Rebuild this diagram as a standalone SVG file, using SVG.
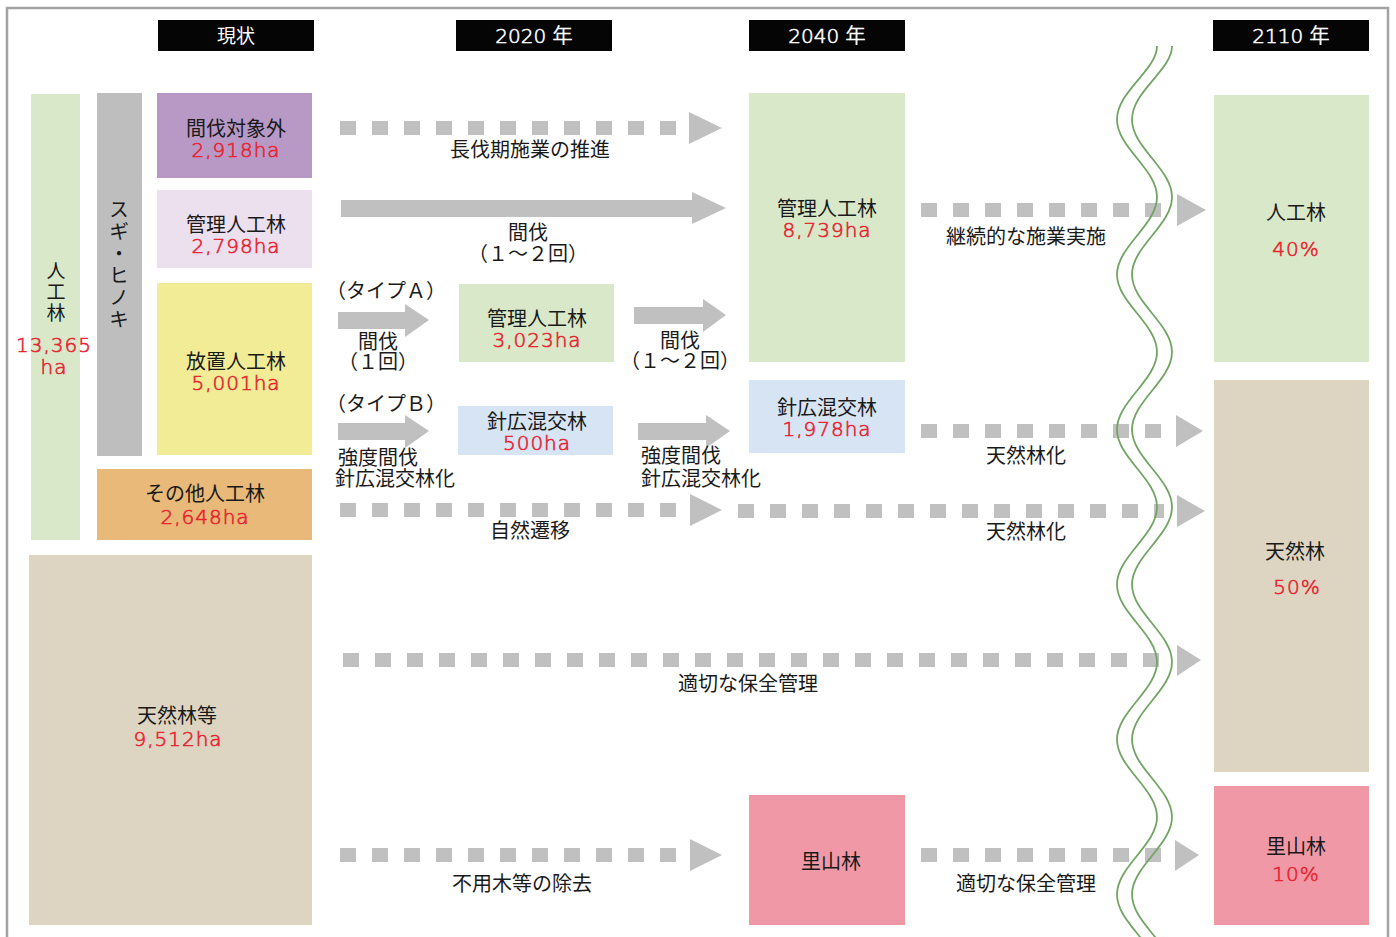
<svg xmlns="http://www.w3.org/2000/svg" width="1396" height="937" viewBox="0 0 1396 937">
<style>
.jp{font-family:"Noto Sans CJK JP","Noto Sans",sans-serif;font-size:20px;fill:#1a1a1a;text-anchor:middle}
.jl{font-family:"Noto Sans CJK JP","Noto Sans",sans-serif;font-size:20px;fill:#1a1a1a}
.vt{font-family:"Noto Sans CJK JP","Noto Sans",sans-serif;font-size:20px;fill:#1a1a1a;writing-mode:vertical-rl}
.num{font-family:"DejaVu Sans","Noto Sans CJK JP",sans-serif;font-weight:200;font-size:20px;fill:#e8232f;stroke:#e8232f;stroke-width:0.6;text-anchor:middle;letter-spacing:1px}
.hd{font-family:"DejaVu Sans","Noto Sans CJK JP",sans-serif;font-weight:200;font-size:20px;fill:#fff;stroke:#fff;stroke-width:0.6;text-anchor:middle}
.dash{stroke:#c0c0c0;stroke-width:14;stroke-dasharray:16 16;fill:none}
.head{fill:#c0c0c0}
.wave{fill:none;stroke:#72a564;stroke-width:1.8}
</style>
<rect x="0" y="0" width="1396" height="937" fill="#fff"/>
<path d="M7,945 V8 H1388 V945" fill="none" stroke="#a3a3a3" stroke-width="2.5"/>

<g id="headers">
<rect x="158" y="20" width="156" height="31" fill="#050505"/>
<text x="236" y="43" style="font-family:'Noto Sans CJK JP',sans-serif;font-size:19px;fill:#fff;text-anchor:middle">現状</text>
<rect x="456" y="20" width="156" height="31" fill="#050505"/>
<text class="hd" x="534" y="43">2020 年</text>
<rect x="749" y="20" width="156" height="31" fill="#050505"/>
<text class="hd" x="827" y="43">2040 年</text>
<rect x="1213" y="20" width="156" height="31" fill="#050505"/>
<text class="hd" x="1291" y="43">2110 年</text>
</g>

<g id="node-jinkourin-total">
<rect x="31" y="94" width="49" height="446" fill="#d9e8c9"/>
<text class="vt" x="56" y="261" style="font-size:19px;letter-spacing:2px">人工林</text>
<text class="num" x="54" y="352">13,365</text>
<text class="num" x="54" y="374">ha</text>
</g>

<g id="node-sugi-hinoki">
<rect x="97" y="93" width="45" height="363" fill="#bebebe"/>
<text class="vt" x="119" y="199" style="letter-spacing:2px">スギ・ヒノキ</text>
</g>

<g id="node-kanbatsu-taishougai">
<rect x="157" y="93" width="155" height="85" fill="#b899c6"/>
<text class="jp" x="236" y="136">間伐対象外</text>
<text class="num" x="236" y="157">2,918ha</text>
</g>

<g id="node-kanri-2798">
<rect x="157" y="190" width="155" height="78" fill="#ecdfee"/>
<text class="jp" x="236" y="232">管理人工林</text>
<text class="num" x="236" y="253">2,798ha</text>
</g>

<g id="node-houchi">
<rect x="157" y="283" width="155" height="172" fill="#f1ec95"/>
<text class="jp" x="236" y="369">放置人工林</text>
<text class="num" x="236" y="390">5,001ha</text>
</g>

<g id="node-sonota">
<rect x="97" y="469" width="215" height="71" fill="#e8b978"/>
<text class="jp" x="205" y="501">その他人工林</text>
<text class="num" x="205" y="524">2,648ha</text>
</g>

<g id="node-tennenrin-tou">
<rect x="29" y="555" width="283" height="370" fill="#ddd5c2"/>
<text class="jp" x="177" y="723">天然林等</text>
<text class="num" x="178" y="746">9,512ha</text>
</g>

<g id="node-kanri-3023">
<rect x="459" y="284" width="155" height="78" fill="#d9e8c9"/>
<text class="jp" x="537" y="326">管理人工林</text>
<text class="num" x="537" y="347">3,023ha</text>
</g>

<g id="node-shinkou-500">
<rect x="458" y="406" width="155" height="49" fill="#d7e4f4"/>
<text class="jp" x="537" y="429">針広混交林</text>
<text class="num" x="537" y="450">500ha</text>
</g>

<g id="node-kanri-8739">
<rect x="749" y="93" width="156" height="269" fill="#d9e8c9"/>
<text class="jp" x="827" y="216">管理人工林</text>
<text class="num" x="827" y="237">8,739ha</text>
</g>

<g id="node-shinkou-1978">
<rect x="749" y="380" width="156" height="73" fill="#d7e4f4"/>
<text class="jp" x="827" y="415">針広混交林</text>
<text class="num" x="827" y="436">1,978ha</text>
</g>

<g id="node-satoyama-2040">
<rect x="749" y="795" width="156" height="130" fill="#f098a6"/>
<text class="jp" x="831" y="869">里山林</text>
</g>

<g id="node-jinkourin-2110">
<rect x="1214" y="95" width="155" height="267" fill="#d9e8c9"/>
<text class="jp" x="1296" y="220">人工林</text>
<text class="num" x="1296" y="256" font-size="22">40%</text>
</g>

<g id="node-tennenrin-2110">
<rect x="1214" y="380" width="155" height="392" fill="#ddd5c2"/>
<text class="jp" x="1295" y="559">天然林</text>
<text class="num" x="1297" y="594" font-size="22">50%</text>
</g>

<g id="node-satoyama-2110">
<rect x="1214" y="786" width="155" height="139" fill="#f098a6"/>
<text class="jp" x="1296" y="854">里山林</text>
<text class="num" x="1296" y="881" font-size="22">10%</text>
</g>

<g id="connectors">
<line class="dash" x1="340" y1="128" x2="676" y2="128"/>
<polygon class="head" points="689,112 722,128 689,144"/>
<text class="jp" x="530" y="157">長伐期施業の推進</text>
<polygon class="head" points="341,200 692,200 692,192 726,208 692,224 692,217 341,217"/>
<text class="jp" x="528" y="240">間伐</text>
<text class="jp" x="528" y="261" font-size="18">（１～２回）</text>
<text class="jl" x="326" y="298" font-size="18">（タイプＡ）</text>
<polygon class="head" points="338,312 405,312 405,304 429,320 405,337 405,329 338,329"/>
<text class="jp" x="378" y="349">間伐</text>
<text class="jp" x="378" y="369" font-size="18">（１回）</text>
<polygon class="head" points="634,307 703,307 703,299 726,315 703,332 703,324 634,324"/>
<text class="jp" x="680" y="348">間伐</text>
<text class="jp" x="680" y="368" font-size="18">（１～２回）</text>
<text class="jl" x="326" y="411" font-size="18">（タイプＢ）</text>
<polygon class="head" points="338,423 405,423 405,415 429,431 405,448 405,440 338,440"/>
<text class="jl" x="338" y="465">強度間伐</text>
<text class="jl" x="335" y="486">針広混交林化</text>
<polygon class="head" points="638,423 706,423 706,415 730,431 706,448 706,440 638,440"/>
<text class="jl" x="641" y="463">強度間伐</text>
<text class="jl" x="641" y="486">針広混交林化</text>
<line class="dash" x1="921" y1="210" x2="1161" y2="210"/>
<polygon class="head" points="1177,194 1206,210 1177,226"/>
<text class="jp" x="1026" y="244">継続的な施業実施</text>
<line class="dash" x1="921" y1="431" x2="1161" y2="431"/>
<polygon class="head" points="1176,415 1203,431 1176,447"/>
<text class="jp" x="1026" y="463">天然林化</text>
<line class="dash" x1="340" y1="510" x2="676" y2="510"/>
<polygon class="head" points="690,494 722,510 690,526"/>
<text class="jp" x="530" y="538">自然遷移</text>
<line class="dash" x1="738" y1="511" x2="1164" y2="511"/>
<polygon class="head" points="1177,495 1205,511 1177,527"/>
<text class="jp" x="1026" y="539">天然林化</text>
<line class="dash" x1="343" y1="660" x2="1159" y2="660"/>
<polygon class="head" points="1177,645 1201,660 1177,676"/>
<text class="jp" x="748" y="691">適切な保全管理</text>
<line class="dash" x1="340" y1="855" x2="676" y2="855"/>
<polygon class="head" points="690,839 722,855 690,871"/>
<text class="jp" x="522" y="891">不用木等の除去</text>
<line class="dash" x1="921" y1="855" x2="1161" y2="855"/>
<polygon class="head" points="1175,840 1199,855 1175,871"/>
<text class="jp" x="1026" y="891">適切な保全管理</text>
</g>

<g id="time-break">
<path class="wave" d="M1157,46 C1157,70.2 1117,91.3 1117,119.5 S1157,168.8 1157,197 S1117,246.3 1117,274.5 S1157,323.8 1157,352 S1117,401.3 1117,429.5 S1157,478.8 1157,507 S1117,556.3 1117,584.5 S1157,633.8 1157,662 S1117,711.3 1117,739.5 S1157,788.8 1157,817 S1117,866.3 1117,894.5 S1157,943.8 1157,972"/>
<path class="wave" transform="translate(15,0)" d="M1157,46 C1157,70.2 1117,91.3 1117,119.5 S1157,168.8 1157,197 S1117,246.3 1117,274.5 S1157,323.8 1157,352 S1117,401.3 1117,429.5 S1157,478.8 1157,507 S1117,556.3 1117,584.5 S1157,633.8 1157,662 S1117,711.3 1117,739.5 S1157,788.8 1157,817 S1117,866.3 1117,894.5 S1157,943.8 1157,972"/>
</g>
</svg>
